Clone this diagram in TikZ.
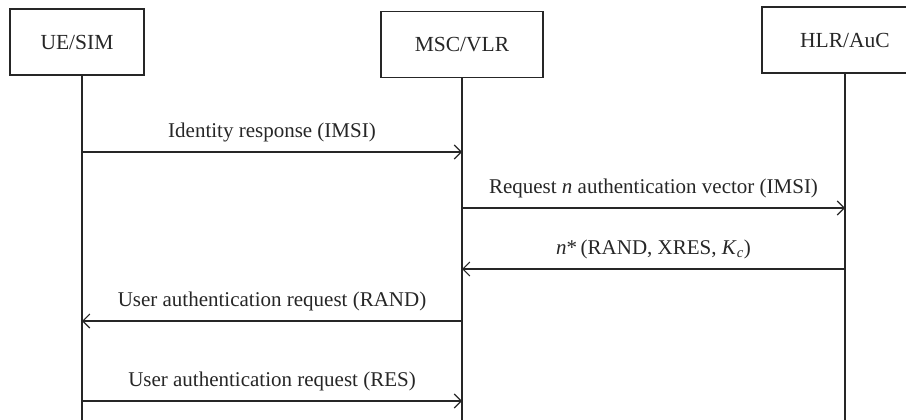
\documentclass[tikz,border=0pt]{standalone}
\usepackage{fontspec}
\setmainfont{Liberation Serif}
\usetikzlibrary{arrows.meta}
\begin{document}
\begin{tikzpicture}[x=1pt,y=-1pt,
  line width=1.2pt, color={black!85},
  entity/.style={draw, rectangle, minimum height=66pt, inner sep=0pt, font=\fontsize{21.5}{24}\selectfont},
  lifeline/.style={line width=1.2pt},
  msg/.style={-{Straight Barb[length=7pt,width=14pt,line width=1.1pt]}, line width=1.2pt},
  lbl/.style={anchor=base, yshift=15pt, font=\fontsize{21}{24}\selectfont, inner sep=0pt}]
\useasboundingbox (0,0) rectangle (906,420);
\clip (0,0) rectangle (906,420);

% participants
\node[entity, minimum width=134pt] (ue)  at (77,42)  {UE/SIM};
\node[entity, minimum width=162pt] (msc) at (462,44.5) {MSC/VLR};
\node[entity, minimum width=166pt] (hlr) at (845,40) {HLR/AuC};

% lifeline ends
\coordinate (ueEnd)  at (82,425);
\coordinate (mscEnd) at (462,425);
\coordinate (hlrEnd) at (845,425);
\draw[lifeline] (ue.south -| ueEnd) -- (ueEnd);
\draw[lifeline] (msc.south) -- (mscEnd);
\draw[lifeline] (hlr.south) -- (hlrEnd);

% message anchors on the lifelines
\coordinate (ue1) at (82,152);  \coordinate (msc1) at (462,152);
\coordinate (msc2) at (462,208); \coordinate (hlr2) at (845,208);
\coordinate (hlr3) at (845,269); \coordinate (msc3) at (462,269);
\coordinate (msc4) at (462,321); \coordinate (ue4) at (82,321);
\coordinate (ue5) at (82,401);  \coordinate (msc5) at (462,401);

% messages
\draw[msg] (ue1) -- node[lbl] {Identity response (IMSI)} (msc1);
\draw[msg] (msc2) -- node[lbl] {Request \textit{n} authentication vector (IMSI)} (hlr2);
\draw[msg] (hlr3) -- node[lbl] {\textit{n}*\,(RAND, XRES, \textit{K}\textsubscript{\textit{c}})} (msc3);
\draw[msg] (msc4) -- node[lbl] {User authentication request (RAND)} (ue4);
\draw[msg] (ue5) -- node[lbl] {User authentication request (RES)} (msc5);
\end{tikzpicture}
\end{document}
